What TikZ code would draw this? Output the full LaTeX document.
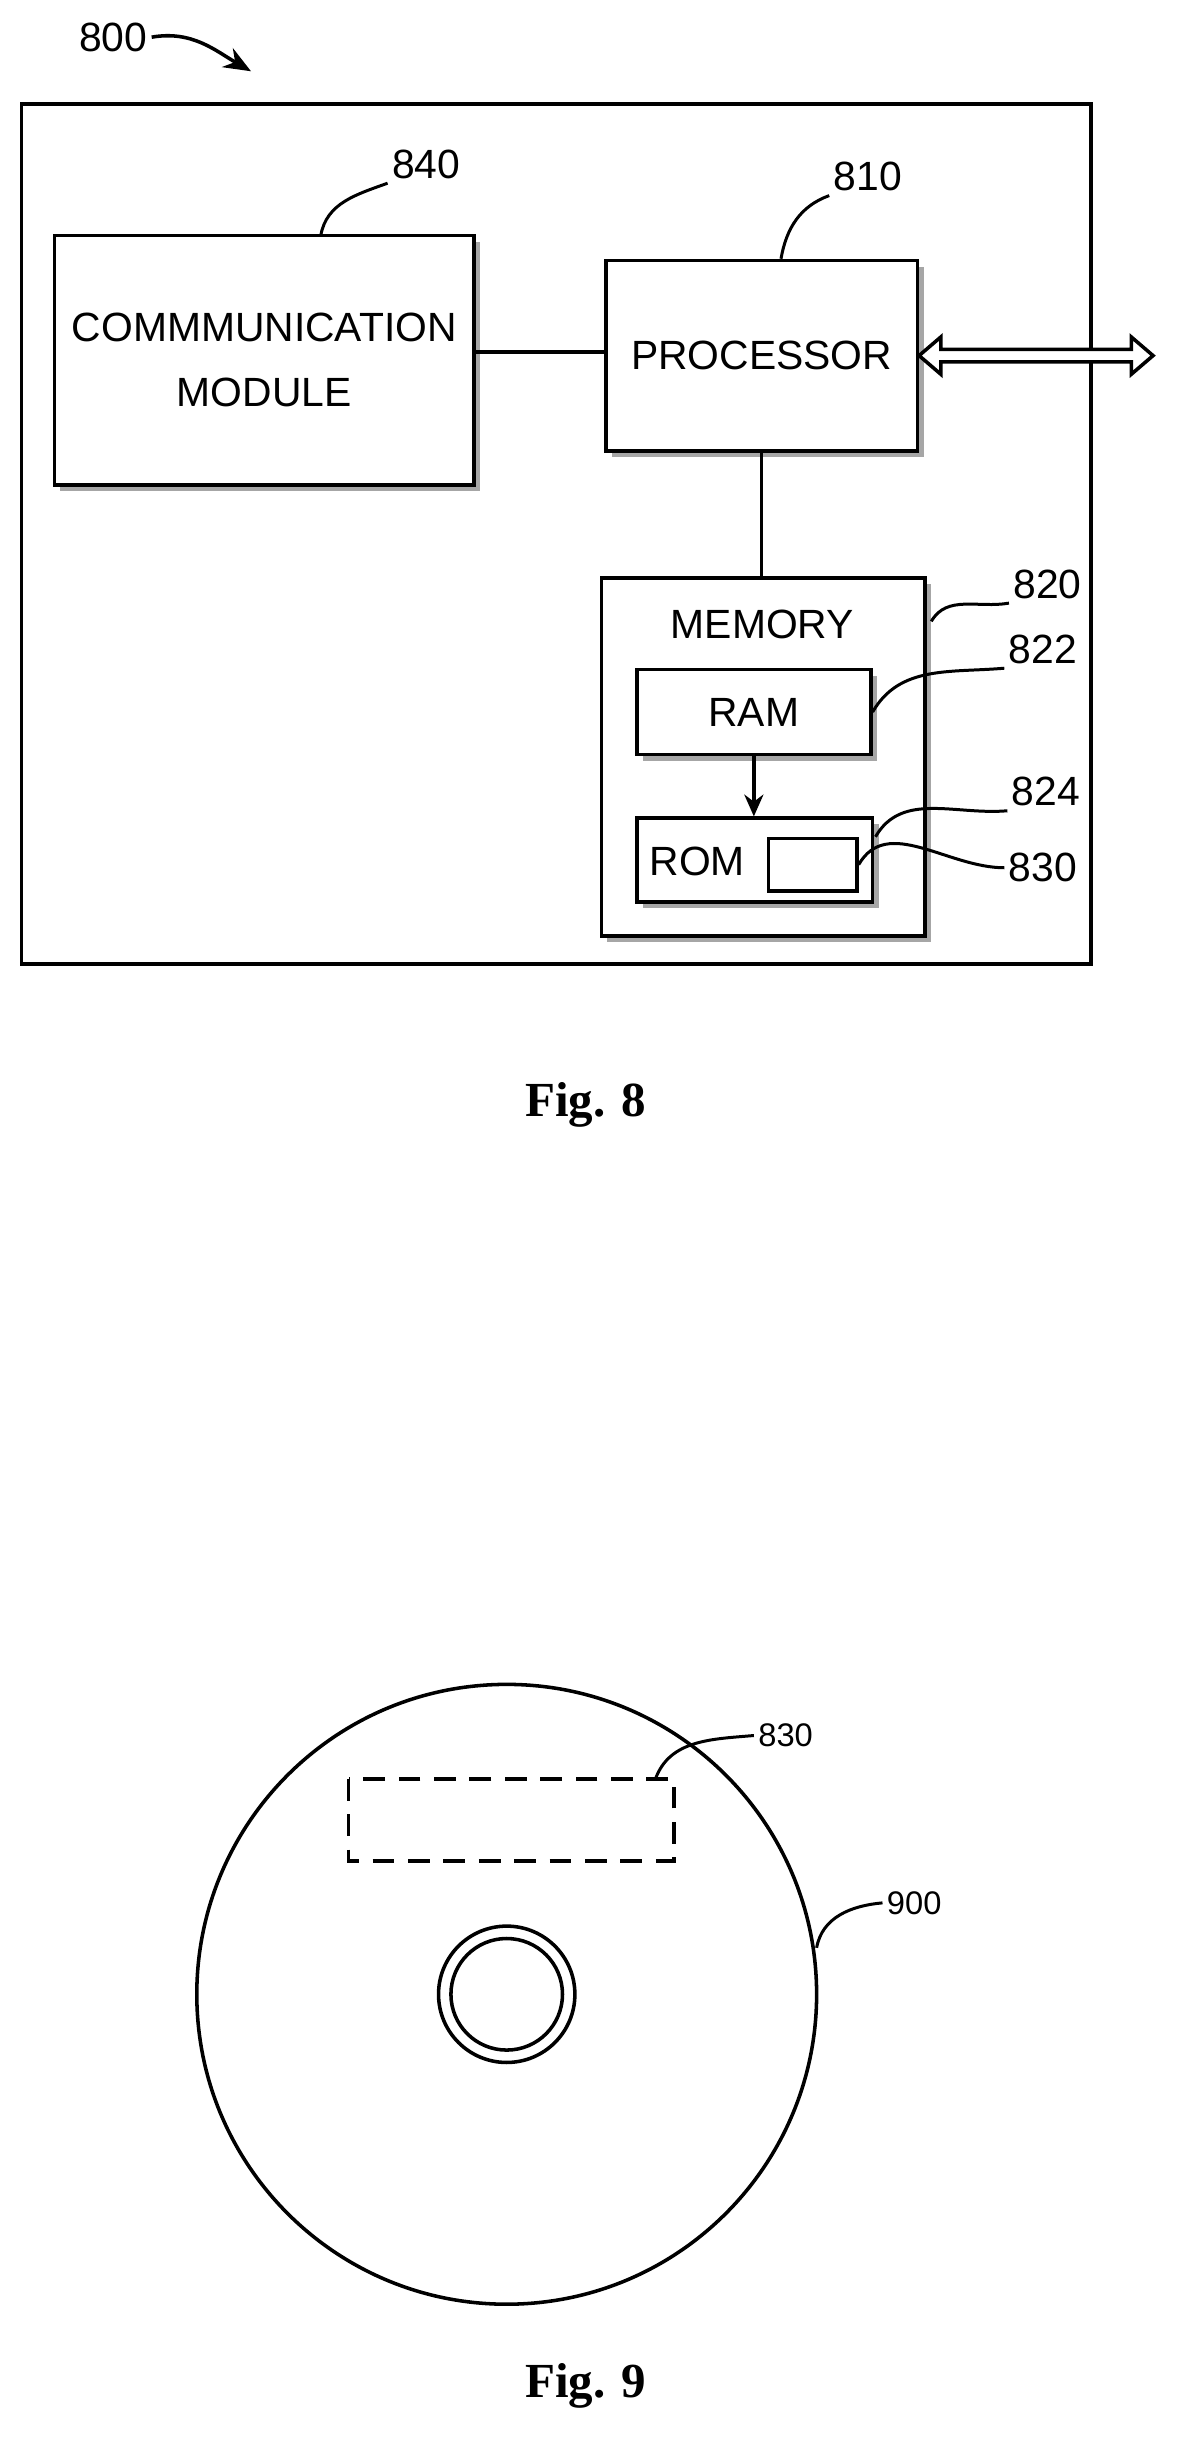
\documentclass[tikz,border=0pt]{standalone}
\usepackage{fontspec}
\setmainfont{Liberation Sans}
\newfontfamily\capfont{Liberation Serif}
\usetikzlibrary{calc, shadows, arrows.meta}

\tikzset{
  every picture/.style={line width=1.3pt},
  box/.style={draw, fill=white, inner sep=0pt, align=center, font=\fontsize{15}{18}\selectfont,
    drop shadow={shadow xshift=0.08cm, shadow yshift=-0.08cm, fill=gray!70, opacity=1}},
  plain/.style={draw, fill=white, inner sep=0pt},
  num/.style={font=\fontsize{15}{18}\selectfont, inner sep=1pt},
  smallnum/.style={font=\fontsize{12}{14}\selectfont, inner sep=1pt},
  lead/.style={line width=1.1pt},
  figcap/.style={font=\capfont\bfseries\fontsize{18}{20}\selectfont}
}

\begin{document}
\begin{tikzpicture}[x=0.02cm, y=-0.02cm]
  \useasboundingbox (0,0) rectangle (760,1574);

  % Fig. 8
  \node[num] (l800) at (73,24) {800};
  \coordinate (p800) at (162,46);
  \draw[-{Stealth[length=10pt, width=8pt]}] (l800.east) to[out=10, in=150] (p800);

  % outer frame
  \draw (14,67) rectangle (704,622);

  % communication module
  \node[box, minimum width=5.42cm, minimum height=3.22cm] (comm) at (170.5,232.5)
    {\raisebox{-8pt}{COMMMUNICATION}\\[6pt]\raisebox{-8pt}{MODULE}};
  \node[num] (l840) at (275,106) {840};
  \coordinate (c840) at (207,152);
  \draw[lead] (c840) to[out=80, in=200] (l840.south west);

  % processor
  \node[box, minimum width=4.02cm, minimum height=2.46cm] (proc) at (491.5,229.5) {PROCESSOR};
  \node[num] (l810) at (560,114) {810};
  \coordinate (c810) at (504,167);
  \draw[lead] (c810) to[out=80, in=200] (l810.south west);

  \draw (comm.east |- 0,227) -- (proc.west |- 0,227);

  % bus arrow
  \draw[fill=white] (proc.east)
    -- ++(14,-12) -- ++(0,8) -- ++(123,0) -- ++(0,-8) -- ++(14,12)
    -- ++(-14,12) -- ++(0,-8) -- ++(-123,0) -- ++(0,8) -- cycle;

  % memory
  \node[box, minimum width=4.18cm, minimum height=4.62cm] (mem) at (492.5,488.5) {};
  \node[font=\fontsize{15}{18}\selectfont] (memt) at (492,403) {MEMORY};
  \draw (proc.south) -- (proc.south |- mem.north);
  \node[num] (l820) at (676,377) {820};
  \coordinate (c820) at (601,401);
  \draw[lead] (c820) to[out=60, in=190] (l820.south west);

  % ram
  \node[box, minimum width=3.02cm, minimum height=1.1cm] (ram) at (486.5,459.5) {RAM};
  \node[num] (l822) at (673,419) {822};
  \draw[lead] (ram.east) to[out=60, in=185] (l822.south west);

  % rom
  \node[box, minimum width=3.04cm, minimum height=1.08cm] (rom) at (487,555) {};
  \node[font=\fontsize{15}{18}\selectfont] (romt) at (450,556) {ROM};
  \node[plain, minimum width=1.14cm, minimum height=0.68cm] (sw) at (524.5,558) {};
  \draw[-{Stealth[length=8pt, width=7pt]}] (ram.south) -- (rom.north -| ram.south);
  \node[num] (l824) at (675,511) {824};
  \coordinate (c824) at (565,540);
  \draw[lead] (c824) to[out=60, in=185] (l824.south west);
  \node[num] (l830) at (673,560) {830};
  \draw[lead] (sw.east) to[out=60, in=180] (l830.west);

  \node[figcap] (fig8) at (378,713) {Fig. 8};

  % Fig. 9
  \draw (327,1287) circle (200);
  \draw (327,1287) circle (44);
  \draw (327,1287) circle (36);
  \draw[dash pattern=on 8pt off 5pt] (225,1148) rectangle (435,1201);
  \node[smallnum] (l930) at (507,1120) {830};
  \coordinate (c930) at (423,1148);
  \draw[lead] (c930) to[out=70, in=185] (l930.west);
  \node[smallnum] (l900) at (590,1228) {900};
  \coordinate (c900) at (527,1257);
  \draw[lead] (c900) to[out=80, in=185] (l900.west);

  \node[figcap] (fig9) at (378,1540) {Fig. 9};
\end{tikzpicture}
\end{document}
